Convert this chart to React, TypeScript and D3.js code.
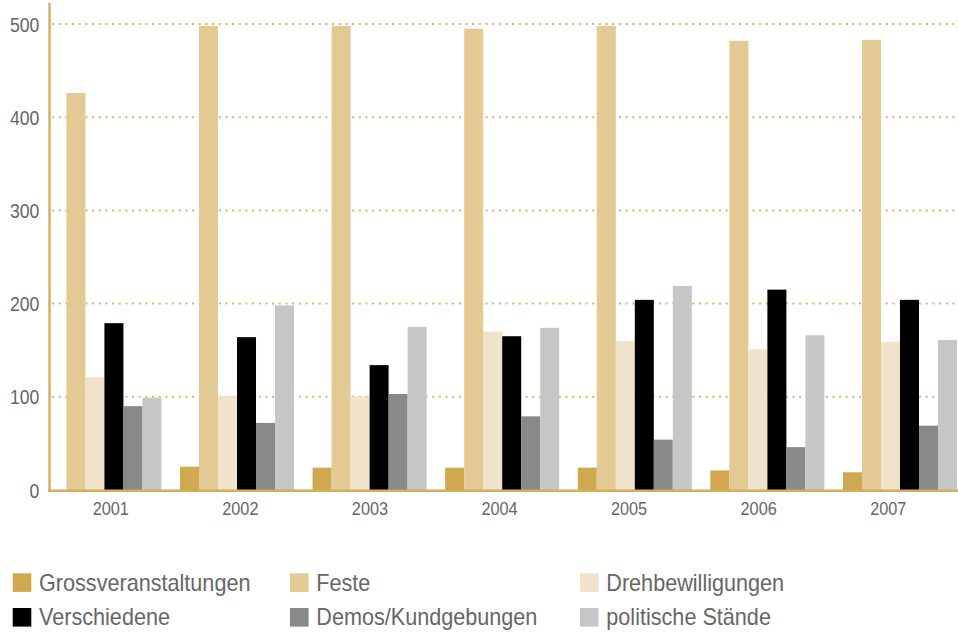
import React from 'react';
import * as d3 from 'd3';

const years = ['2001', '2002', '2003', '2004', '2005', '2006', '2007'];
const seriesNames = ['Grossveranstaltungen', 'Feste', 'Drehbewilligungen', 'Verschiedene', 'Demos/Kundgebungen', 'politische Stände'];
const seriesColors = ['#cfa84f', '#e3c994', '#f1e2cc', '#000000', '#898989', '#c6c6c6'];

const gross = [0, 25, 24, 24, 24, 21, 19];
const feste = [426, 498, 498, 495, 498, 482, 483];
const dreh = [121, 101, 100, 170, 160, 151, 159];
const verschiedene = [179, 164, 134, 165, 204, 215, 204];
const demos = [90, 72, 103, 79, 54, 46, 69];
const politisch = [99, 198, 175, 174, 219, 166, 161];
const seriesValues = [gross, feste, dreh, verschiedene, demos, politisch];

const yTicks = [0, 100, 200, 300, 400, 500];

// no condensed Helvetica available, so squeeze Liberation Sans horizontally
const FONT = '"Liberation Sans", Arial, sans-serif';
const GOLD = '#d4ae5c';
const TEXT = '#666';

const App: React.FC = () => {
  const width = 958;
  const height = 633;
  const y0 = 490;

  const x = d3.scaleBand<string>().domain(years).range([47.4, 957]).paddingInner(0.14).paddingOuter(0);
  const xInner = d3.scaleBand<number>().domain(d3.range(seriesNames.length)).range([0, x.bandwidth()]);
  const xLabel = d3.scaleBand<string>().domain(years).range([46, 953]);
  const y = d3.scaleLinear().domain([0, 500]).range([y0, 24]);

  return (
    <svg width={width} height={height} style={{ position: 'absolute', left: 0, top: 0, background: '#fff' }}>
      {/* grid */}
      {yTicks.filter(t => t > 0).map(t => (
        <line key={t} x1={52} x2={width} y1={y(t)} y2={y(t)} stroke="#d9b566" strokeWidth={2} strokeDasharray="2 4.67" />
      ))}
      {/* bars */}
      {years.map((yr, i) => (
        <g key={yr} transform={`translate(${x(yr)},0)`}>
          {seriesValues.map((vals, s) => vals[i] > 0 && (
            <rect key={s} x={xInner(s)} y={y(vals[i])} width={xInner.bandwidth()} height={y0 - y(vals[i])} fill={seriesColors[s]} />
          ))}
        </g>
      ))}
      {/* axes */}
      <line x1={49.5} x2={49.5} y1={3} y2={491.5} stroke={GOLD} strokeWidth={2.4} />
      <line x1={48.3} x2={width} y1={490.8} y2={490.8} stroke={GOLD} strokeWidth={2.4} />
      {yTicks.map(t => (
        <text key={t} transform={`translate(39.3,${y(t) + 7.5}) scale(0.84,1)`} textAnchor="end" fill={TEXT} fontFamily={FONT} fontSize={21}>{t}</text>
      ))}
      {years.map(yr => (
        <text key={yr} transform={`translate(${(xLabel(yr) ?? 0) + xLabel.bandwidth() / 2},515) scale(0.88,1)`} textAnchor="middle" fill={TEXT} fontFamily={FONT} fontSize={18.5}>{yr}</text>
      ))}
      {/* legend */}
      {seriesNames.map((name, s) => {
        const col = s % 3;
        const row = Math.floor(s / 3);
        const lx = [12.7, 290, 580][col];
        const ly = [573.3, 608][row];
        return (
          <g key={name}>
            <rect x={lx} y={ly} width={18.6} height={18.6} fill={seriesColors[s]} />
            <text transform={`translate(${lx + 26.3},${ly + 17.4}) scale(0.94,1)`} fill={TEXT} fontFamily={FONT} fontSize={23}>{name}</text>
          </g>
        );
      })}
    </svg>
  );
};

export default App;
